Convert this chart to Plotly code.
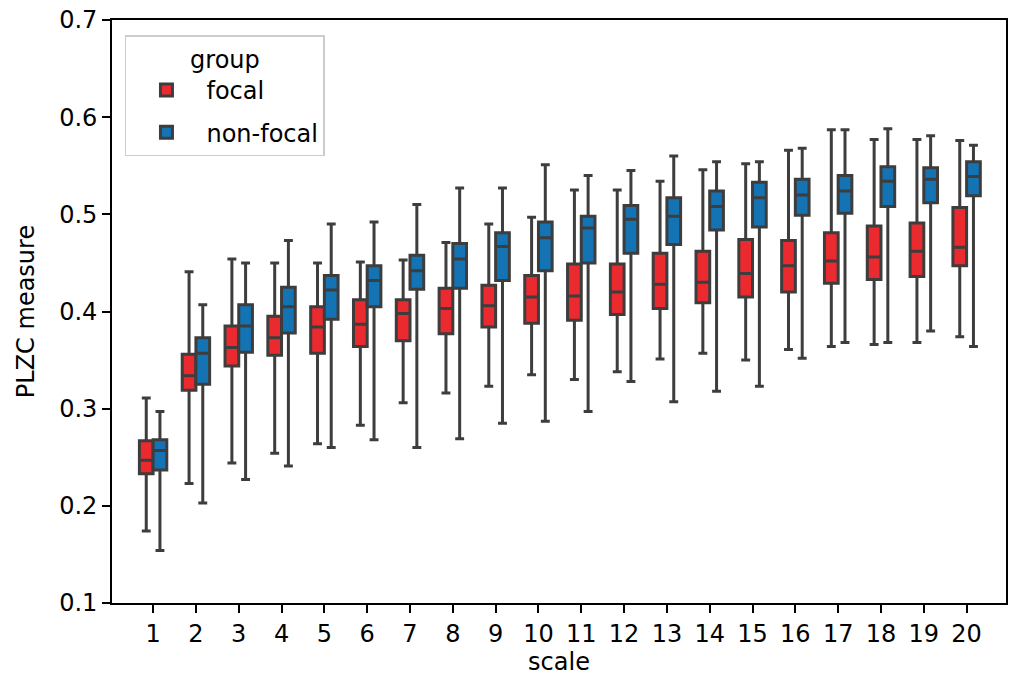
import plotly.graph_objects as go

scales = list(range(1, 21))

focal_upper = [0.311, 0.441, 0.454, 0.450, 0.450, 0.451, 0.453, 0.471, 0.490, 0.497,
               0.525, 0.525, 0.534, 0.546, 0.552, 0.566, 0.587, 0.577, 0.577, 0.576]
focal_q3 = [0.267, 0.356, 0.385, 0.395, 0.405, 0.412, 0.412, 0.424, 0.427, 0.437,
            0.449, 0.449, 0.460, 0.462, 0.474, 0.473, 0.481, 0.488, 0.491, 0.507]
focal_median = [0.247, 0.334, 0.363, 0.373, 0.384, 0.387, 0.398, 0.403, 0.406, 0.415,
                0.416, 0.420, 0.428, 0.430, 0.439, 0.447, 0.452, 0.456, 0.462, 0.466]
focal_q1 = [0.233, 0.319, 0.344, 0.355, 0.357, 0.364, 0.370, 0.377, 0.384, 0.388,
            0.391, 0.397, 0.403, 0.409, 0.415, 0.420, 0.429, 0.433, 0.436, 0.447]
focal_lower = [0.174, 0.223, 0.244, 0.254, 0.264, 0.283, 0.306, 0.316, 0.323, 0.335,
               0.330, 0.338, 0.351, 0.357, 0.350, 0.361, 0.364, 0.366, 0.368, 0.374]

nonfocal_upper = [0.297, 0.407, 0.450, 0.473, 0.490, 0.492, 0.510, 0.527, 0.527, 0.551,
                  0.540, 0.545, 0.560, 0.554, 0.554, 0.568, 0.587, 0.588, 0.581, 0.571]
nonfocal_q3 = [0.268, 0.373, 0.407, 0.425, 0.437, 0.447, 0.458, 0.470, 0.481, 0.492,
               0.498, 0.509, 0.517, 0.524, 0.533, 0.536, 0.540, 0.549, 0.548, 0.554]
nonfocal_median = [0.257, 0.357, 0.385, 0.405, 0.422, 0.432, 0.442, 0.454, 0.467, 0.476,
                   0.486, 0.495, 0.498, 0.508, 0.517, 0.520, 0.524, 0.534, 0.536, 0.539]
nonfocal_q1 = [0.237, 0.325, 0.358, 0.378, 0.392, 0.405, 0.423, 0.424, 0.432, 0.442,
               0.450, 0.460, 0.469, 0.484, 0.487, 0.499, 0.501, 0.508, 0.512, 0.519]
nonfocal_lower = [0.154, 0.203, 0.227, 0.241, 0.260, 0.268, 0.260, 0.269, 0.285, 0.287,
                  0.297, 0.328, 0.307, 0.318, 0.323, 0.352, 0.368, 0.368, 0.380, 0.364]

groups = ["focal", "non-focal"]
colors = ["#ea2a2f", "#1473b3"]
edge = "#3d3d3d"
font = "DejaVu Sans"
fs = 24

fig = go.Figure()
data = [
    (focal_q1, focal_median, focal_q3, focal_lower, focal_upper),
    (nonfocal_q1, nonfocal_median, nonfocal_q3, nonfocal_lower, nonfocal_upper),
]
for name, col, (q1, med, q3, lo, hi) in zip(groups, colors, data):
    fig.add_trace(go.Box(
        name=name,
        legendgroup=name,
        x=scales,
        q1=q1, median=med, q3=q3, lowerfence=lo, upperfence=hi,
        fillcolor=col,
        line=dict(color=edge, width=3),
        whiskerwidth=0.65,
        boxpoints=False,
        opacity=1,
    ))

fig.update_layout(
    width=1014, height=684,
    margin=dict(l=112, r=8, t=20, b=81),
    paper_bgcolor="white", plot_bgcolor="white",
    boxmode="group", boxgap=0.36, boxgroupgap=0.0,
    font=dict(family=font, size=fs, color="black"),
    legend=dict(
        title=dict(text="group", side="top center", font=dict(size=fs)),
        x=0.0145, y=0.974, xanchor="left", yanchor="top",
        bordercolor="#cccccc", borderwidth=1.5, bgcolor="white",
        font=dict(size=fs), itemwidth=70, tracegroupgap=8,
    ),
)
fig.update_xaxes(
    range=[0.04, 20.92], tickmode="array", tickvals=scales,
    ticktext=[str(s) for s in scales],
    ticks="outside", ticklen=8, tickwidth=1.8, tickcolor="black",
    showline=True, mirror=True, linecolor="black", linewidth=1.8,
    showgrid=False, zeroline=False, automargin=False,
    ticklabeloverflow="allow",
    title=dict(text="scale", font=dict(size=fs), standoff=4),
)
fig.update_yaxes(
    range=[0.1, 0.7], tickmode="array",
    tickvals=[0.1, 0.2, 0.3, 0.4, 0.5, 0.6, 0.7],
    ticktext=["0.1", "0.2", "0.3", "0.4", "0.5", "0.6", "0.7"],
    ticks="outside", ticklen=8, tickwidth=1.8, tickcolor="black",
    showline=True, mirror=True, linecolor="black", linewidth=1.8,
    showgrid=False, zeroline=False, automargin=False,
    ticklabeloverflow="allow",
    title=dict(text="PLZC measure", font=dict(size=fs), standoff=18),
)

# remove the browser's default 8px body margin so the figure fills the window
fig.write_html("out.html",
               config={"displayModeBar": False},
               post_script="document.body.style.margin='0px';document.body.style.overflow='hidden';")
